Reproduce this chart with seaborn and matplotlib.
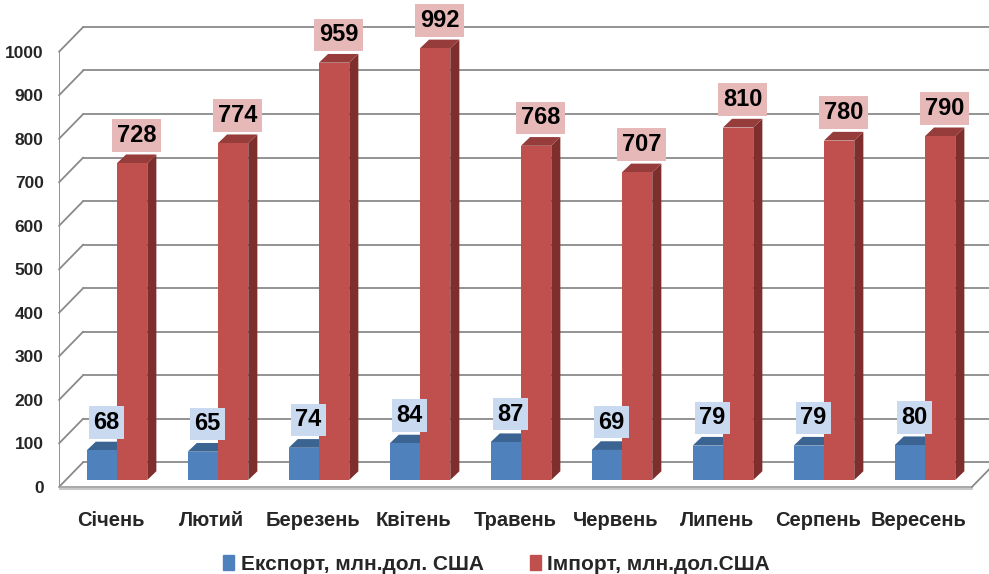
import matplotlib
matplotlib.use("Agg")
import matplotlib.pyplot as plt
from matplotlib.patches import Polygon, Patch
import seaborn as sns
import pandas as pd

# data
months = ["Січень", "Лютий", "Березень", "Квітень", "Травень",
          "Червень", "Липень", "Серпень", "Вересень"]
export_vals = [68, 65, 74, 84, 87, 69, 79, 79, 80]
import_vals = [728, 774, 959, 992, 768, 707, 810, 780, 790]
series = ["Експорт, млн.дол. США", "Імпорт, млн.дол.США"]
y_ticks = list(range(0, 1001, 100))

# colours: front, top, side, label box
colors = {
    series[0]: ("#4F81BD", "#3B6492", "#385D8A", "#C9D9EF"),
    series[1]: ("#C0504D", "#963C3A", "#7E2F2D", "#E6B9B8"),
}

# fake 3D geometry (in data units)
dx_bar, dy_bar = 0.09, 20      # depth of bars
dx_wall, dy_wall = 0.24, 57    # front plane -> back wall
front_drop = 16                # front plane sits below bar plane

df = pd.DataFrame({
    "month": months * 2,
    "value": export_vals + import_vals,
    "series": [series[0]] * len(months) + [series[1]] * len(months),
})

sns.set_theme(style="white")
plt.rcParams["font.family"] = ["Liberation Sans", "DejaVu Sans"]
plt.rcParams["font.weight"] = "bold"

fig = plt.figure(figsize=(9.89, 5.74), dpi=100)
ax = fig.add_axes([59 / 989, 74 / 574, 930 / 989, 500 / 574])

sns.barplot(data=df, x="month", y="value", hue="series", ax=ax,
            palette={s: colors[s][0] for s in series}, width=0.6,
            saturation=1, legend=False, zorder=3, linewidth=0)

x_left, x_right = -0.574, 8.634
ax.set_xlim(x_left, x_right)
ax.set_ylim(-46, 1103)
for sp in ax.spines.values():
    sp.set_visible(False)

# walls / gridlines
grid_c = "#8A8A8A"
for v in y_ticks:
    ax.plot([x_left, x_left + dx_wall], [v - front_drop, v - front_drop + dy_wall],
            color=grid_c, lw=1.3, zorder=0.5, clip_on=False)
    ax.plot([x_left + dx_wall, x_right], [v - front_drop + dy_wall] * 2,
            color=grid_c, lw=1.3, zorder=0.5, clip_on=False)
ax.plot([x_left, x_left], [-front_drop, 1000 - front_drop], color=grid_c, lw=1.3, zorder=0.5)
floor_end = 8.465
ax.plot([x_left, floor_end], [-front_drop, -front_drop], color="#A0A0A0", lw=1.3, zorder=0.6)
ax.plot([x_left, floor_end], [-front_drop - 4, -front_drop - 4], color="#C8C8C8", lw=1.5, zorder=0.6)
ax.plot([floor_end, floor_end + dx_wall], [-front_drop, -front_drop + dy_wall],
        color=grid_c, lw=1.3, zorder=0.6, clip_on=False)

# side + top faces and value labels
for cont, s in zip(ax.containers, series):
    front, top, side, box = colors[s]
    for rect in cont.patches:
        x0, w, h = rect.get_x(), rect.get_width(), rect.get_height()
        ax.add_patch(Polygon([(x0, h), (x0 + dx_bar, h + dy_bar),
                              (x0 + w + dx_bar, h + dy_bar), (x0 + w, h)],
                             closed=True, fc=top, ec="none", zorder=2.5))
        ax.add_patch(Polygon([(x0 + w, 0), (x0 + w + dx_bar, dy_bar),
                              (x0 + w + dx_bar, h + dy_bar), (x0 + w, h)],
                             closed=True, fc=side, ec="none", zorder=2))
        ax.text(x0 + w / 2 + dx_bar / 2, h + 64, f"{h:.0f}", ha="center", va="center",
                fontsize=17, fontweight="bold", color="black", zorder=5,
                bbox=dict(boxstyle="square,pad=0.2", fc=box, ec="none"))

ax.set_yticks([v - front_drop for v in y_ticks], labels=[str(v) for v in y_ticks])
ax.set_xticks([i - 0.06 for i in range(len(months))], labels=months)
ax.tick_params(axis="y", length=0, pad=11, labelsize=12.5)
ax.tick_params(axis="x", length=0, pad=8, labelsize=14.5)
for t in ax.get_xticklabels() + ax.get_yticklabels():
    t.set_fontweight("bold")
ax.set_xlabel("")
ax.set_ylabel("")

handles = [Patch(color=colors[s][0], label=s) for s in series]
fig.legend(handles=handles, loc="center", bbox_to_anchor=(0.502, 10 / 574), ncol=2,
           frameon=False, handlelength=0.55, handleheight=0.7, handletextpad=0.3,
           columnspacing=2.2, prop={"size": 15, "weight": "bold"})

fig.savefig("out.png", dpi=100)
